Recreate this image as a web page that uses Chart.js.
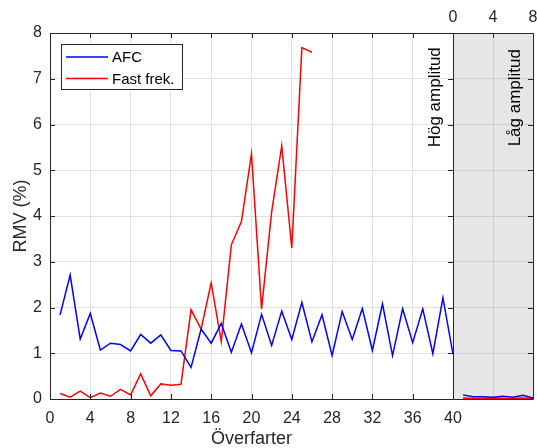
<!DOCTYPE html>
<html>
<head>
<meta charset="utf-8">
<script src="https://cdn.jsdelivr.net/npm/chart.js@4/dist/chart.umd.min.js"></script>
<style>
  html, body { margin: 0; padding: 0; background: #fff; }
  #wrap { position: relative; width: 537px; height: 448px; }
  #wrap canvas { position: absolute; left: 0; top: 0; }
</style>
</head>
<body>
<div id="wrap">
  <canvas id="hogChart" width="537" height="448"></canvas>
  <canvas id="lagChart" width="537" height="448"></canvas>
</div>
<script>
// passes, high amplitude
const hogPasses = [1, 2, 3, 4, 5, 6, 7, 8, 9, 10, 11, 12, 13, 14, 15, 16, 17, 18, 19, 20,
    21, 22, 23, 24, 25, 26, 27, 28, 29, 30, 31, 32, 33, 34, 35, 36, 37, 38, 39, 40];
const hogAfc = [1.84, 2.71, 1.31, 1.87, 1.07, 1.22, 1.19, 1.05, 1.41, 1.22,
    1.40, 1.06, 1.05, 0.69, 1.53, 1.22, 1.65, 1.02, 1.64, 1.01,
    1.85, 1.17, 1.92, 1.30, 2.11, 1.25, 1.84, 0.95, 1.91, 1.30,
    1.98, 1.06, 2.08, 0.95, 1.97, 1.23, 1.97, 0.99, 2.21, 0.98];
const hogFast = [0.12, 0.04, 0.17, 0.03, 0.13, 0.06, 0.21, 0.09, 0.55, 0.07,
    0.33, 0.30, 0.32, 1.95, 1.53, 2.54, 1.26, 3.37, 3.88, 5.36,
    1.97, 4.09, 5.53, 3.30, 7.68, 7.58];

// passes, low amplitude
const lagPasses = [1, 2, 3, 4, 5, 6, 7, 8];
const lagAfc = [0.09, 0.05, 0.05, 0.04, 0.06, 0.04, 0.08, 0.02];
const lagFast = [0.02, 0.01, 0.01, 0.02, 0.01, 0.01, 0.02, 0.01];

const hogTicksX = [0, 4, 8, 12, 16, 20, 24, 28, 32, 36, 40];
const lagTicksX = [0, 4, 8];
const ticksY = [0, 1, 2, 3, 4, 5, 6, 7, 8];

const axisColor = "#262626";
const fontFamily = "'Liberation Sans', Arial, sans-serif";
Chart.defaults.font.family = fontFamily;
Chart.defaults.color = axisColor;

function toPoints(xs, ys) {
    return ys.map((y, i) => ({ x: xs[i], y: y }));
}

function fixedTicks(values) {
    return function (scale) {
        scale.ticks = values.map(v => ({ value: v }));
    };
}

// keep the plot box fixed, labels may hang over its edges
function fixedHeight(h) {
    return function (scale) {
        scale.height = h;
        scale.paddingLeft = 0;
        scale.paddingRight = 0;
    };
}

// box round the plot area with MATLAB style inward ticks
function drawFrame(chart, opts) {
    const ctx = chart.ctx;
    const { left, right, top, bottom } = chart.chartArea;
    const xs = chart.scales.x, ys = chart.scales.y;
    const len = 5;
    const px = v => Math.round(v) + 0.5;
    ctx.save();
    ctx.strokeStyle = axisColor;
    ctx.lineWidth = 1;
    ctx.beginPath();
    ctx.rect(px(left), px(top), Math.round(right) - Math.round(left), Math.round(bottom) - Math.round(top));
    xs.ticks.forEach(t => {
        const x = px(xs.getPixelForValue(t.value));
        if (opts.top) { ctx.moveTo(x, top); ctx.lineTo(x, top + len); }
        if (opts.bottom) { ctx.moveTo(x, bottom); ctx.lineTo(x, bottom - len); }
    });
    ys.ticks.forEach(t => {
        const y = px(ys.getPixelForValue(t.value));
        if (opts.left) { ctx.moveTo(left, y); ctx.lineTo(left + len, y); }
        if (opts.right) { ctx.moveTo(right, y); ctx.lineTo(right - len, y); }
    });
    ctx.stroke();
    ctx.restore();
}

function drawVerticalText(chart, text, xv, yv) {
    const ctx = chart.ctx;
    const x = chart.scales.x.getPixelForValue(xv);
    const y = chart.scales.y.getPixelForValue(yv);
    ctx.save();
    ctx.translate(x, y);
    ctx.rotate(-Math.PI / 2);
    ctx.font = "17px " + fontFamily;
    ctx.fillStyle = "#000";
    ctx.textAlign = "right";
    ctx.textBaseline = "alphabetic";
    ctx.fillText(text, 0, 0);
    ctx.restore();
}

const hogPlugin = {
    id: "hogDecor",
    afterDatasetsDraw(chart) {
        drawVerticalText(chart, "Hög amplitud", 38.7, 7.69);
    },
    afterDraw(chart) {
        drawFrame(chart, { top: true, bottom: true, left: true, right: true });
        // legend box
        const ctx = chart.ctx;
        const bx = 61.5, by = 44.5, bw = 121, bh = 45;
        ctx.save();
        ctx.fillStyle = "#fff";
        ctx.fillRect(bx, by, bw, bh);
        ctx.strokeStyle = axisColor;
        ctx.lineWidth = 1;
        ctx.strokeRect(bx, by, bw, bh);
        ctx.font = "15px " + fontFamily;
        ctx.textBaseline = "middle";
        ctx.textAlign = "left";
        chart.data.datasets.forEach((ds, i) => {
            const y = 57 + i * 21.5;
            ctx.strokeStyle = ds.borderColor;
            ctx.lineWidth = 1.5;
            ctx.beginPath();
            ctx.moveTo(66, y);
            ctx.lineTo(108, y);
            ctx.stroke();
            ctx.fillStyle = "#000";
            ctx.fillText(ds.label, 112, y + 1);
        });
        ctx.restore();
    }
};

const lagPlugin = {
    id: "lagDecor",
    beforeDraw(chart) {
        const { left, right, top, bottom } = chart.chartArea;
        chart.ctx.save();
        chart.ctx.fillStyle = "#e6e6e6";
        chart.ctx.fillRect(left, top, right - left, bottom - top);
        chart.ctx.restore();
    },
    afterDatasetsDraw(chart) {
        drawVerticalText(chart, "Låg amplitud", 6.7, 7.65);
    },
    afterDraw(chart) {
        drawFrame(chart, { top: true, bottom: false, left: false, right: true });
    }
};

const hogChart = new Chart(document.getElementById("hogChart"), {
    type: "line",
    data: {
        datasets: [
            { label: "AFC", data: toPoints(hogPasses, hogAfc), borderColor: "#0000ff" },
            { label: "Fast frek.", data: toPoints(hogPasses, hogFast), borderColor: "#ff0000" }
        ]
    },
    options: {
        responsive: false,
        animation: false,
        devicePixelRatio: 1,
        layout: { padding: { left: 0, right: 84, top: 33, bottom: 0 } },
        elements: { point: { radius: 0 }, line: { borderWidth: 1.5, tension: 0 } },
        plugins: { legend: { display: false }, tooltip: { enabled: false } },
        scales: {
            x: {
                type: "linear", min: 0, max: 40,
                afterBuildTicks: fixedTicks(hogTicksX),
                ticks: { padding: 10, font: { size: 16 }, maxRotation: 0, autoSkip: false },
                grid: { color: "#e0e0e0", drawTicks: false },
                border: { display: false },
                title: { display: true, text: "Överfarter", font: { size: 18 }, padding: { top: 0, bottom: -2 } },
                afterFit: fixedHeight(49)
            },
            y: {
                min: 0, max: 8,
                afterBuildTicks: fixedTicks(ticksY),
                ticks: { padding: 8, font: { size: 16 } },
                grid: { color: "#e0e0e0", drawTicks: false },
                border: { display: false },
                title: { display: true, text: "RMV (%)", font: { size: 18 }, padding: { top: 10, bottom: 0 } },
                afterFit: s => { s.width = 50; }
            }
        }
    },
    plugins: [hogPlugin]
});

const lagChart = new Chart(document.getElementById("lagChart"), {
    type: "line",
    data: {
        datasets: [
            { label: "AFC", data: toPoints(lagPasses, lagAfc), borderColor: "#0000ff" },
            { label: "Fast frek.", data: toPoints(lagPasses, lagFast), borderColor: "#ff0000" }
        ]
    },
    options: {
        responsive: false,
        animation: false,
        devicePixelRatio: 1,
        layout: { padding: { left: 453, right: 0, top: 0, bottom: 49 } },
        elements: { point: { radius: 0 }, line: { borderWidth: 1.5, tension: 0 } },
        plugins: { legend: { display: false }, tooltip: { enabled: false } },
        scales: {
            x: {
                type: "linear", position: "top", min: 0, max: 8,
                afterBuildTicks: fixedTicks(lagTicksX),
                ticks: { padding: 6, font: { size: 16 }, maxRotation: 0, autoSkip: false },
                grid: { color: "#cdcdcd", drawTicks: false },
                border: { display: false },
                afterFit: fixedHeight(33)
            },
            y: {
                position: "right", min: 0, max: 8,
                afterBuildTicks: fixedTicks(ticksY),
                ticks: { display: false },
                grid: { color: "#cdcdcd", drawTicks: false },
                border: { display: false },
                afterFit: s => { s.width = 4; s.paddingTop = 0; s.paddingBottom = 0; }
            }
        }
    },
    plugins: [lagPlugin]
});
</script>
</body>
</html>
